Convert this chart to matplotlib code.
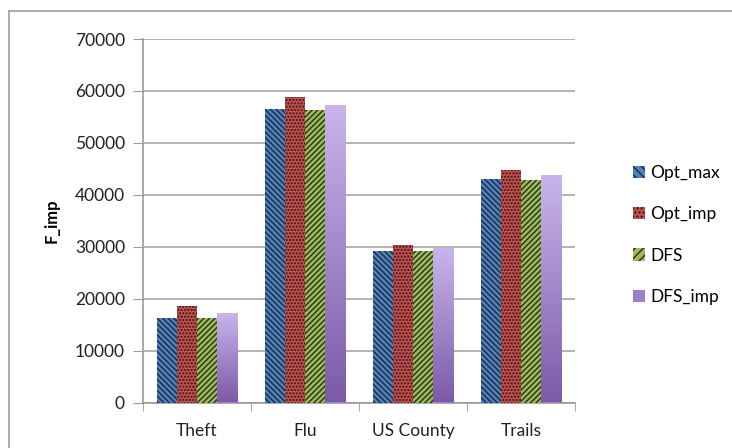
import matplotlib
matplotlib.use("Agg")
import matplotlib.pyplot as plt
import numpy as np
from matplotlib.lines import Line2D
from matplotlib.patches import Patch
from matplotlib.colors import LinearSegmentedColormap

categories = ["Theft", "Flu", "US County", "Trails"]
series_names = ["Opt_max", "Opt_imp", "DFS", "DFS_imp"]
opt_max = [16300, 56600, 29200, 43000]
opt_imp = [18500, 58800, 30300, 44800]
dfs = [16200, 56400, 29100, 42800]
dfs_imp = [17200, 57300, 29700, 43900]
yticks = [0, 10000, 20000, 30000, 40000, 50000, 60000, 70000]

plt.rcParams['font.family'] = ['Lato', 'DejaVu Sans']
plt.rcParams['hatch.linewidth'] = 1.0

W, H = 732, 448
fig = plt.figure(figsize=(W / 100, H / 100), dpi=100)
ax = fig.add_axes([143 / W, 1 - 402.5 / H, (575 - 143) / W, (402.5 - 39) / H])

x = np.arange(len(categories))
bw = 0.1875
values = [opt_max, opt_imp, dfs, dfs_imp]
fills = ['#4f81bd', '#c0504d', '#9bbb59', '#8064a2']
hatch_cols = ['#1b2a40', '#3a1515', '#26301a', None]
hatches = ['\\\\\\\\\\\\', '.....', '//////', None]

for i, (vals, fc, hc, ht) in enumerate(zip(values, fills, hatch_cols, hatches)):
    pos = x + (i - 1.5) * bw
    if ht is not None:
        ax.bar(pos, vals, width=bw, color=fc, edgecolor=hc, linewidth=0,
               hatch=ht, zorder=3)
    else:
        bars = ax.bar(pos, vals, width=bw, color='#9a80c8', linewidth=0, zorder=3)
        cmap = LinearSegmentedColormap.from_list('g', ['#c9b5ec', '#7c5aa8'])
        grad = np.linspace(1, 0, 256).reshape(-1, 1)
        for b in bars:
            x0 = b.get_x()
            im = ax.imshow(grad, cmap=cmap, aspect='auto', vmin=0, vmax=1,
                           extent=[x0, x0 + b.get_width(), 0, b.get_height()],
                           zorder=3.5, origin='lower')
            im.set_clip_path(b)

ax.set_xlim(-0.5, len(categories) - 0.5)
ax.set_ylim(0, 70000)
ax.set_yticks(yticks)
ax.set_yticklabels([str(v) for v in yticks], fontsize=12.5, color='#222222')
ax.set_xticks(x)
ax.set_xticklabels(categories, fontsize=12.5, color='#222222')
ax.set_xticks(np.arange(-0.5, len(categories), 1.0), minor=True)
ax.tick_params(axis='x', which='major', length=0, pad=15)
ax.tick_params(axis='x', which='minor', length=6, color='#999999', direction='out')
ax.tick_params(axis='y', length=7, color='#999999', direction='out', pad=6)
ax.grid(axis='y', color='#a6a6a6', linewidth=1.2, zorder=0)
ax.set_axisbelow(True)
for s in ['top', 'right']:
    ax.spines[s].set_visible(False)
for s in ['left', 'bottom']:
    ax.spines[s].set_color('#999999')
    ax.spines[s].set_linewidth(1.2)

ax.set_ylabel('F_imp', fontsize=12, fontweight='bold', labelpad=11)

handles = [Patch(facecolor=fills[0], edgecolor=hatch_cols[0], hatch='\\\\\\\\', linewidth=0),
           Patch(facecolor=fills[1], edgecolor=hatch_cols[1], hatch='....', linewidth=0),
           Patch(facecolor=fills[2], edgecolor=hatch_cols[2], hatch='////', linewidth=0),
           Patch(facecolor='#9a80c8', linewidth=0)]
fig.legend(handles, series_names, loc='center left',
           bbox_to_anchor=(624 / W, 1 - 235 / H), frameon=False, fontsize=12.5,
           handlelength=0.7, handleheight=0.7, handletextpad=0.3,
           labelspacing=1.45, borderpad=0)

fig.add_artist(Line2D([9 / W, 1], [1 - 11 / H, 1 - 11 / H], color='#a0a0a0', lw=1.2))
fig.add_artist(Line2D([9 / W, 9 / W], [0, 1 - 11 / H], color='#a0a0a0', lw=1.2))

fig.savefig('out.png', dpi=100)
